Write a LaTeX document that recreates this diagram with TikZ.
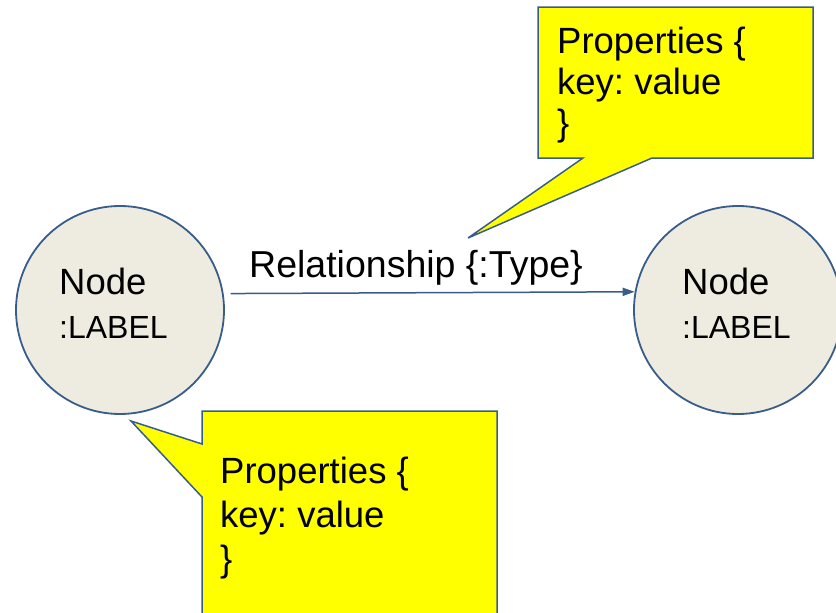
\documentclass[tikz,border=0pt]{standalone}
\usepackage{fontspec}
\setmainfont{Liberation Sans}
\usetikzlibrary{arrows.meta}
\definecolor{edgeblue}{RGB}{56,93,138}
\definecolor{nodefill}{RGB}{238,236,225}
\definecolor{callyellow}{RGB}{255,255,0}
\begin{document}
\frenchspacing
\begin{tikzpicture}[x=1pt,y=-1pt,
  gnode/.style={circle, draw=edgeblue, fill=nodefill, line width=1.8pt, minimum size=208pt, inner sep=0pt},
  callout/.style={draw=edgeblue, fill=callyellow, line width=1.5pt, line join=miter},
  big/.style={font=\fontsize{36.5}{41}\selectfont, inner sep=0pt},
  bigwide/.style={font=\fontsize{36.5}{44}\selectfont, inner sep=0pt},
  small/.style={font=\fontsize{32}{36}\selectfont, inner sep=0pt},
  rel/.style={draw=edgeblue, line width=1.5pt, -{Triangle[length=12pt,width=8pt]}}
]
\useasboundingbox (0,0) rectangle (836,613);
\clip (0,0) rectangle (836,613);
\fill[white] (0,0) rectangle (836,613);

% graph nodes
\node[gnode] (a) at (120,310) {};
\node[gnode] (b) at (738,310) {};
\node[big, anchor=base west] (aname) at (59,294) {Node};
\node[small, anchor=base west] (alabel) at (59,338) {:LABEL};
\node[big, anchor=base west] (bname) at (682,294) {Node};
\node[small, anchor=base west] (blabel) at (682,338) {:LABEL};

% relationship
\draw[rel, shorten <=7pt] (a.9.4) -- (b.170.6);
\node[font=\fontsize{37.5}{42}\selectfont, inner sep=0pt, anchor=base west] (rlabel) at (249,277) {Relationship \{:Type\}};

% top callout
\draw[callout] (538,7) -- (813,7) -- (813,158) -- (652,158) -- (468,238) -- (583,158) -- (538,158) -- cycle;
\node[big, anchor=north west, align=left] (ptop) at (557,27) {Properties \{\\key: value\\\}};

% bottom callout
\draw[callout] (202,411) -- (497,411) -- (497,640) -- (202,640) -- (202,497) -- (131,421) -- (202,444) -- cycle;
\node[bigwide, anchor=north west, align=left] (pbot) at (220,457) {Properties \{\\key: value\\\}};
\end{tikzpicture}
\end{document}
